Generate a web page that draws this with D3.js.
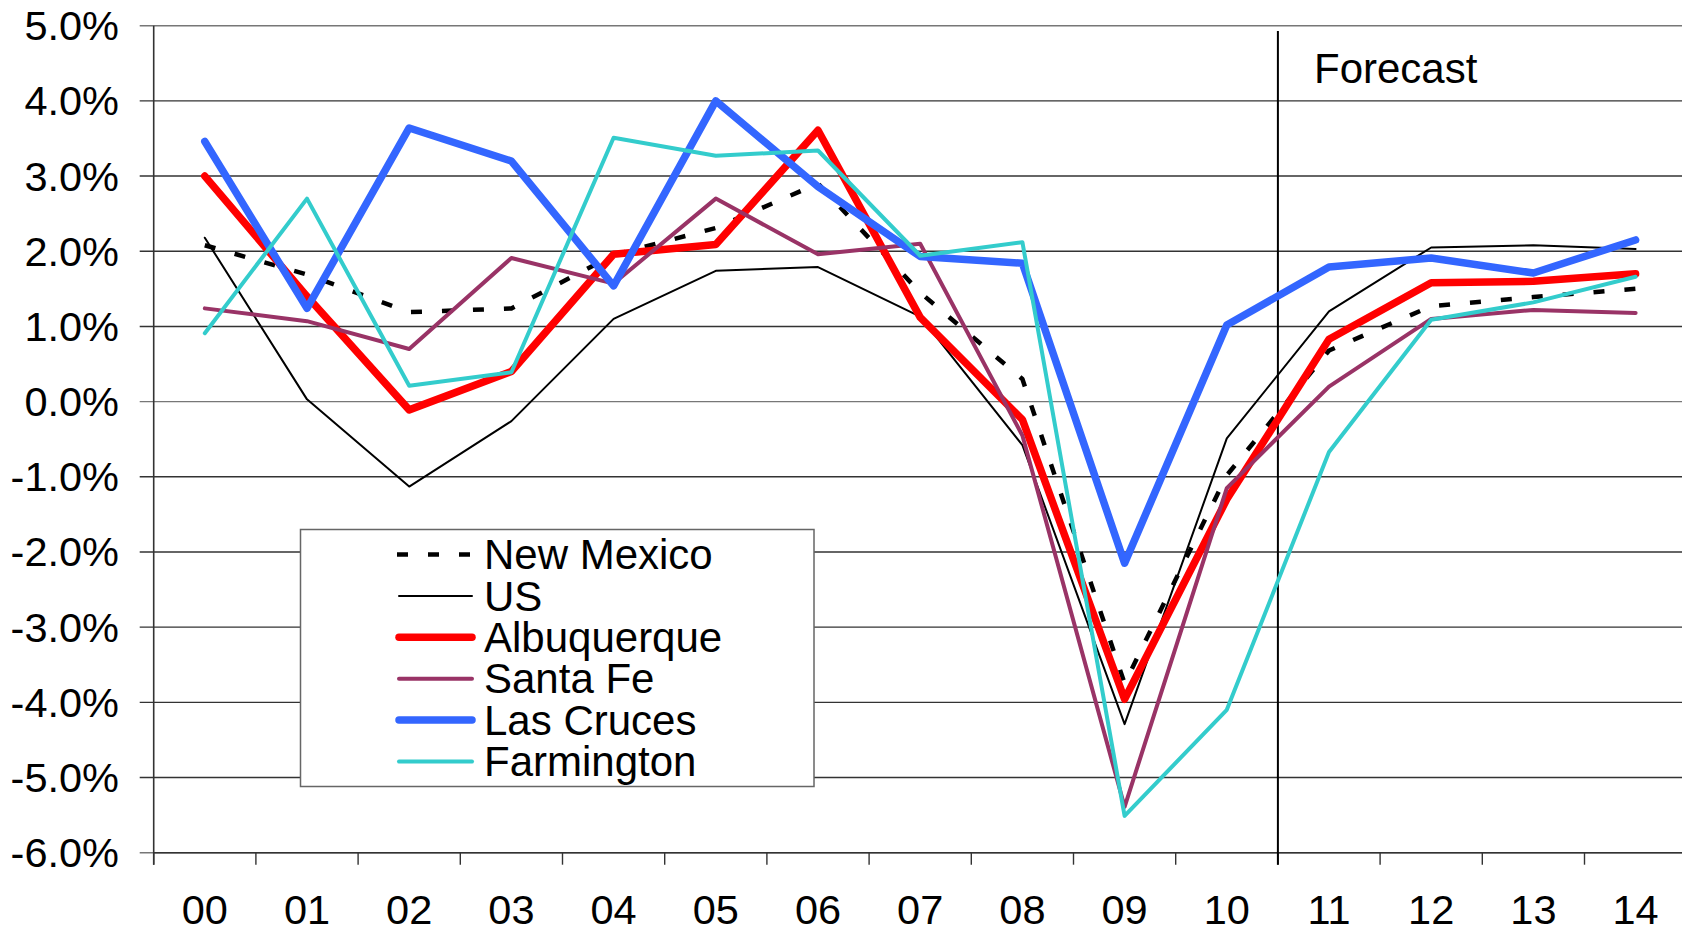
<!DOCTYPE html>
<html>
<head>
<meta charset="utf-8">
<script src="https://cdn.jsdelivr.net/npm/d3@7"></script>
<style>
  body { margin: 0; background: #fff; }
  svg { display: block; font-family: "Liberation Sans", Arial, sans-serif; }
</style>
</head>
<body>
<script>
// categories (years)
const years = ["00","01","02","03","04","05","06","07","08","09","10","11","12","13","14"];
const yTicks = [5, 4, 3, 2, 1, 0, -1, -2, -3, -4, -5, -6];

// series values, percent growth
const newMexico   = [2.08, 1.69, 1.19, 1.24, 1.95, 2.31, 2.90, 1.45, 0.30, -3.75, -0.98, 0.68, 1.27, 1.39, 1.50];
const us          = [2.18, 0.03, -1.13, -0.26, 1.10, 1.74, 1.79, 1.13, -0.58, -4.29, -0.49, 1.20, 2.05, 2.08, 2.03];
const albuquerque = [3.00, 1.40, -0.11, 0.40, 1.96, 2.09, 3.61, 1.12, -0.24, -3.96, -1.30, 0.83, 1.58, 1.60, 1.70];
const santaFe     = [1.24, 1.07, 0.70, 1.91, 1.57, 2.70, 1.96, 2.10, -0.45, -5.39, -1.15, 0.20, 1.10, 1.22, 1.18];
const lasCruces   = [3.46, 1.24, 3.64, 3.20, 1.54, 4.00, 2.86, 1.93, 1.84, -2.15, 1.02, 1.79, 1.91, 1.71, 2.15];
const farmington  = [0.91, 2.70, 0.21, 0.39, 3.51, 3.27, 3.34, 1.94, 2.12, -5.51, -4.10, -0.67, 1.09, 1.32, 1.66];

const seriesNames = ["New Mexico", "US", "Albuquerque", "Santa Fe", "Las Cruces", "Farmington"];
const seriesValues = [newMexico, us, albuquerque, santaFe, lasCruces, farmington];
const seriesStyle = [
  { color: "#000000", width: 4.5, dash: "11,20" },
  { color: "#000000", width: 2,   dash: null },
  { color: "#ff0000", width: 7.5, dash: null },
  { color: "#993366", width: 4,   dash: null },
  { color: "#3366ff", width: 7.5, dash: null },
  { color: "#33cccc", width: 4,   dash: null }
];

const W = 1682, H = 927;
const plotLeft = 153.7, plotTop = 25.7, plotBottom = 852.7, step = 102.2;

const svg = d3.select("body").append("svg").attr("width", W).attr("height", H);

const x = d3.scaleBand().domain(years).range([plotLeft, plotLeft + step * years.length]).padding(0);
const y = d3.scaleLinear().domain([-6, 5]).range([plotBottom, plotTop]);
const cx = (d) => x(d) + x.bandwidth() / 2;

// gridlines
svg.append("g")
  .selectAll("line")
  .data(yTicks)
  .join("line")
  .attr("x1", plotLeft - 14)
  .attr("x2", W)
  .attr("y1", (d) => y(d))
  .attr("y2", (d) => y(d))
  .attr("stroke", (d) => (d === 5 || d === 0 || d === -6) ? "#777" : "#333")
  .attr("stroke-width", 1.4);

// y axis
svg.append("line")
  .attr("x1", plotLeft).attr("x2", plotLeft)
  .attr("y1", plotTop).attr("y2", plotBottom + 12)
  .attr("stroke", "#333").attr("stroke-width", 1.6);

svg.append("g")
  .selectAll("text")
  .data(yTicks)
  .join("text")
  .attr("x", 119)
  .attr("y", (d) => y(d))
  .attr("dy", "0.35em")
  .attr("text-anchor", "end")
  .attr("font-size", 41.5)
  .text((d) => d.toFixed(1) + "%");

// x axis ticks at category boundaries
const bounds = d3.range(years.length + 1).map((i) => plotLeft + i * x.step());
svg.append("line")
  .attr("x1", plotLeft).attr("x2", W)
  .attr("y1", plotBottom).attr("y2", plotBottom)
  .attr("stroke", "#333").attr("stroke-width", 1.6);
svg.append("g")
  .selectAll("line")
  .data(bounds)
  .join("line")
  .attr("x1", (d) => d).attr("x2", (d) => d)
  .attr("y1", plotBottom).attr("y2", plotBottom + 12)
  .attr("stroke", "#333").attr("stroke-width", 1.4);

svg.append("g")
  .selectAll("text")
  .data(years)
  .join("text")
  .attr("x", (d) => cx(d))
  .attr("y", 924)
  .attr("text-anchor", "middle")
  .attr("font-size", 41.5)
  .text((d) => d);

// forecast divider
const fx = x("11");
svg.append("line")
  .attr("x1", fx).attr("x2", fx)
  .attr("y1", 31).attr("y2", plotBottom + 12)
  .attr("stroke", "#000").attr("stroke-width", 2);
svg.append("text")
  .attr("x", 1314)
  .attr("y", 82.5)
  .attr("font-size", 42)
  .text("Forecast");

// series lines
const line = d3.line()
  .x((d, i) => cx(years[i]))
  .y((d) => y(d));

seriesValues.forEach((vals, i) => {
  const s = seriesStyle[i];
  svg.append("path")
    .datum(vals)
    .attr("d", line)
    .attr("fill", "none")
    .attr("stroke", s.color)
    .attr("stroke-width", s.width)
    .attr("stroke-dasharray", s.dash)
    .attr("stroke-linejoin", "round")
    .attr("stroke-linecap", s.dash ? "butt" : "round");
});

// legend
const legend = svg.append("g");
legend.append("rect")
  .attr("x", 300.5).attr("y", 529.5)
  .attr("width", 513.5).attr("height", 257)
  .attr("fill", "#fff")
  .attr("stroke", "#666").attr("stroke-width", 1.5);

const rows = legend.selectAll("g.row")
  .data(seriesNames)
  .join("g")
  .attr("class", "row")
  .attr("transform", (d, i) => "translate(0," + (554.5 + i * 41.4) + ")");

rows.append("line")
  .attr("x1", (d, i) => seriesStyle[i].dash ? 397 : 399)
  .attr("x2", (d, i) => seriesStyle[i].dash ? 475 : 472)
  .attr("y1", 0).attr("y2", 0)
  .attr("stroke", (d, i) => seriesStyle[i].color)
  .attr("stroke-width", (d, i) => seriesStyle[i].width)
  .attr("stroke-dasharray", (d, i) => seriesStyle[i].dash)
  .attr("stroke-linecap", (d, i) => seriesStyle[i].dash ? "butt" : "round");

rows.append("text")
  .attr("x", 484)
  .attr("dy", "0.35em")
  .attr("font-size", 42)
  .text((d) => d);
</script>
</body>
</html>
